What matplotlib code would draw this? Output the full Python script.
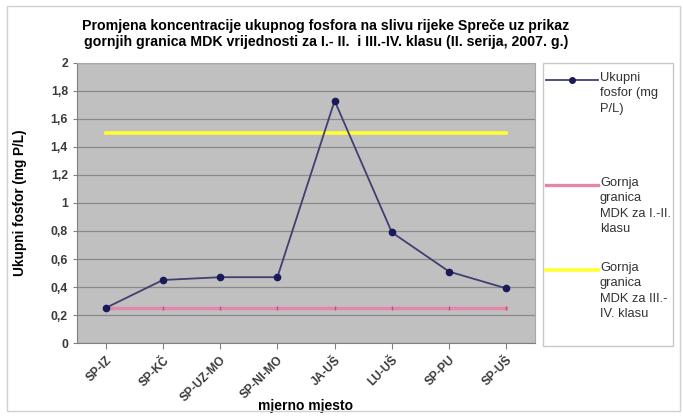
import matplotlib
matplotlib.use("Agg")
import matplotlib.pyplot as plt
from matplotlib.patches import Rectangle
from matplotlib.lines import Line2D
import numpy as np

plt.rcParams['font.family'] = ['Liberation Sans', 'DejaVu Sans']

categories = ["SP-IZ", "SP-KČ", "SP-UZ-MO", "SP-NI-MO", "JA-UŠ", "LU-UŠ", "SP-PU", "SP-UŠ"]
fosfor = [0.25, 0.45, 0.47, 0.47, 1.73, 0.79, 0.51, 0.39]
mdk_1_2 = [0.25] * 8
mdk_3_4 = [1.5] * 8
yticks = [0, 0.2, 0.4, 0.6, 0.8, 1, 1.2, 1.4, 1.6, 1.8, 2]
legend_labels = ['Ukupni\nfosfor (mg\nP/L)',
                 'Gornja\ngranica\nMDK za I.-II.\nklasu',
                 'Gornja\ngranica\nMDK za III.-\nIV. klasu']

W, H = 683, 416
fig = plt.figure(figsize=(W / 100, H / 100), dpi=100)

def fx(px):
    return px / W

def fy(py):
    return 1 - py / H

# outer chart border
fig.patches.append(Rectangle((fx(7), fy(411)), (680 - 7) / W, (411 - 6) / H,
                             transform=fig.transFigure, fill=False,
                             edgecolor='#d0d0d0', linewidth=1.0))

ax = fig.add_axes([fx(77), fy(343), (535 - 77) / W, (343 - 63) / H])
ax.set_facecolor('#c0c0c0')
x = np.arange(len(categories))
ax.set_xlim(-0.5, len(categories) - 0.5)
ax.set_ylim(0, 2)
ax.set_yticks(yticks)
ax.set_yticklabels([("%g" % v).replace('.', ',') for v in yticks], fontsize=8.8,
                   fontweight='bold', color='#3a3a3a')
ax.yaxis.grid(True, color='#8a8a8a', linewidth=0.9)
ax.set_axisbelow(True)
for s in ['top', 'right']:
    ax.spines[s].set_color('#a8a8a8')
for s in ['left', 'bottom']:
    ax.spines[s].set_color('#808080')

l1, = ax.plot(x, fosfor, color='#404070', linewidth=1.3, marker='o', markersize=4.5,
              markerfacecolor='#1a1a5a', markeredgecolor='#1a1a5a', zorder=4)
l2, = ax.plot(x, mdk_1_2, color='#e586ac', linewidth=2.4, marker='|', markersize=3,
              markeredgecolor='#c05080', zorder=3)
l3, = ax.plot(x, mdk_3_4, color='#ffff33', linewidth=2.6, zorder=3)

ax.set_xticks(x)
ax.set_xticklabels(categories, rotation=45, ha='right', rotation_mode='anchor',
                   fontsize=8.6, fontweight='bold', color='#3a3a3a')
ax.tick_params(axis='x', length=4, color='#808080', pad=4)
ax.tick_params(axis='y', length=3, color='#808080')
ax.set_xlabel('mjerno mjesto', fontsize=10, fontweight='bold')
ax.xaxis.set_label_coords(0.5, -0.2)
ax.set_ylabel('Ukupni fosfor (mg P/L)', fontsize=9.8, fontweight='bold')
ax.yaxis.set_label_coords(-0.11, 0.5)

fig.text(fx(326), fy(19),
         'Promjena koncentracije ukupnog fosfora na slivu rijeke Spreče uz prikaz\n'
         'gornjih granica MDK vrijednosti za I.- II.  i III.-IV. klasu (II. serija, 2007. g.)',
         ha='center', va='top', fontsize=10.2, fontweight='bold', linespacing=1.2)

# legend box (Excel-style: handle aligned with first text line)
fig.patches.append(Rectangle((fx(543), fy(346)), (673 - 543) / W, (346 - 63) / H,
                             transform=fig.transFigure, fill=True, facecolor='white',
                             edgecolor='#c8c8c8', linewidth=1.0, zorder=1))
entries = [(l1, 80), (l2, 185), (l3, 270)]
for (line, ypx), lab in zip(entries, legend_labels):
    h = Line2D([fx(546), fx(598)], [fy(ypx), fy(ypx)], transform=fig.transFigure,
               color=line.get_color(), linewidth=line.get_linewidth())
    fig.lines.append(h)
    if line is l1:
        fig.lines.append(Line2D([fx(572)], [fy(ypx)], transform=fig.transFigure,
                                marker='o', markersize=4, color='#1a1a5a', linestyle='none'))
    fig.text(fx(600), fy(ypx - 8), lab, ha='left', va='top', fontsize=9.3,
             color='#333333', linespacing=1.37)

fig.savefig('out.png', dpi=100, facecolor='white')
